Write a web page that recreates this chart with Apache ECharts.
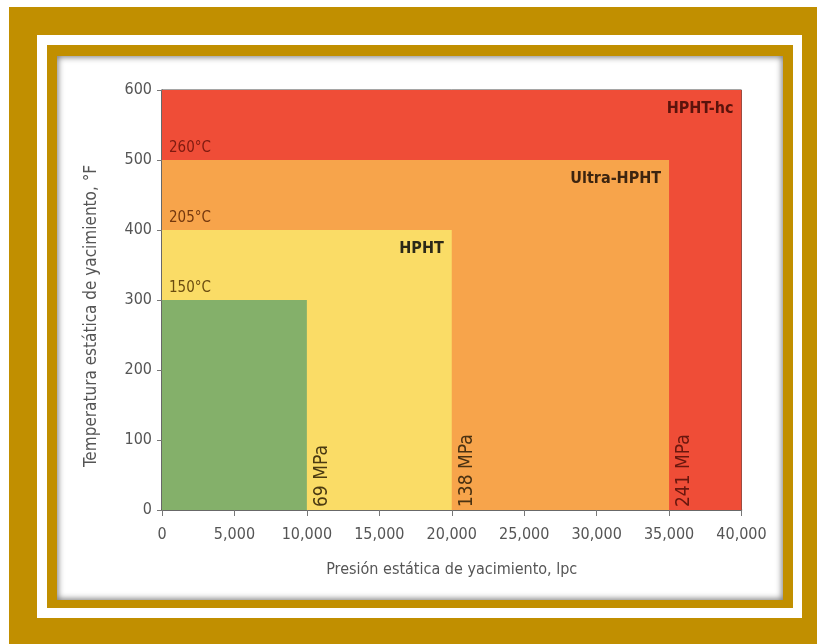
<!DOCTYPE html>
<html lang="es">
<head>
<meta charset="utf-8">
<title>Clasificación HPHT</title>
<script src="https://cdn.jsdelivr.net/npm/echarts@6/dist/echarts.min.js"></script>
<style>
  html, body { margin: 0; padding: 0; background: #ffffff; }
  body { width: 817px; height: 644px; position: relative; overflow: hidden; }
  .layer { position: absolute; }
  #outerGold { left: 9px; top: 7px; right: 0; bottom: 0; background: #C18F00; }
  #whiteBand { left: 37px; top: 35px; width: 765px; height: 583px; background: #ffffff; }
  #innerGold { left: 47px; top: 45px; width: 746px; height: 563px; background: #C18F00; }
  #panel { left: 57px; top: 56px; width: 726px; height: 544px; background: #ffffff;
           box-shadow: inset 0 0 6px 1px rgba(0,0,0,0.55); }
  #chart { left: 0; top: 0; width: 817px; height: 644px; }
</style>
</head>
<body>
<div id="outerGold" class="layer"></div>
<div id="whiteBand" class="layer"></div>
<div id="innerGold" class="layer"></div>
<div id="panel" class="layer"></div>
<div id="chart" class="layer"></div>
<script>
// Zones, outermost first: upper pressure (lpc) and temperature (°F) limits
const zoneNames    = ['HPHT-hc', 'Ultra-HPHT', 'HPHT', ''];
const zonePressure = [40000, 35000, 20000, 10000];
const zoneTemp     = [600, 500, 400, 300];
// Equivalent metric limits written at each zone's top / right edge
const tempCelsius  = ['', '260°C', '205°C', '150°C'];
const pressureMPa  = ['', '241 MPa', '138 MPa', '69 MPa'];
// Axis ticks
const pressureTicks = [0, 5000, 10000, 15000, 20000, 25000, 30000, 35000, 40000];
const tempTicks     = [0, 100, 200, 300, 400, 500, 600];

// Styling
const zoneFill   = ['#EF4D37', '#F7A44B', '#FADC66', '#84B06A'];
const nameInk    = ['#5A130C', '#3C2410', '#2B2818', '#2B2818'];
const celsiusInk = ['#7E1A10', '#7E1A10', '#74380E', '#6A4C10'];
const mpaInk     = ['#6A170E', '#6A170E', '#4A3212', '#4A3A12'];
const FONT = '"Liberation Sans Narrow", "DejaVu Sans Condensed", "Roboto Condensed", "Liberation Sans", sans-serif';

const zoneData = zoneNames.map((n, i) => [zonePressure[i], zoneTemp[i], i]);

const chart = echarts.init(document.getElementById('chart'), null, { renderer: 'canvas' });

chart.setOption({
  backgroundColor: 'transparent',
  animation: false,
  grid: {
    left: 162, right: 75.5, top: 90, bottom: 134,
    show: true, borderColor: '#4a4a4a', borderWidth: 1
  },
  xAxis: {
    type: 'value',
    min: pressureTicks[0], max: pressureTicks[pressureTicks.length - 1],
    interval: pressureTicks[1] - pressureTicks[0],
    name: 'Presión estática de yacimiento, lpc',
    nameLocation: 'middle', nameGap: 52,
    nameTextStyle: { fontFamily: FONT, fontSize: 16, color: '#555' },
    axisLine: { show: true, lineStyle: { color: '#555', width: 1.5 } },
    axisTick: { show: true, length: 6, lineStyle: { color: '#777' } },
    axisLabel: {
      margin: 17, fontFamily: FONT, fontSize: 16, color: '#555',
      formatter: v => v.toLocaleString('en-US')
    },
    splitLine: { show: false }
  },
  yAxis: {
    type: 'value',
    min: tempTicks[0], max: tempTicks[tempTicks.length - 1],
    interval: tempTicks[1] - tempTicks[0],
    name: 'Temperatura estática de yacimiento, °F',
    nameLocation: 'middle', nameGap: 62,
    nameTextStyle: { fontFamily: FONT, fontSize: 17, color: '#555', padding: [0, 32, 0, 0] },
    axisLine: { show: true, lineStyle: { color: '#555', width: 1.5 } },
    axisTick: { show: true, length: 5, lineStyle: { color: '#777' } },
    axisLabel: { margin: 10, fontFamily: FONT, fontSize: 16, color: '#555' },
    splitLine: { show: false }
  },
  series: [
    {
      // nested rectangles, each anchored at the origin
      type: 'custom',
      z: 1,
      data: zoneData,
      renderItem: (params, api) => {
        const o = api.coord([0, 0]);
        const c = api.coord([api.value(0), api.value(1)]);
        const i = api.value(2);
        return {
          type: 'rect',
          shape: { x: o[0], y: c[1], width: c[0] - o[0], height: o[1] - c[1] },
          style: { fill: zoneFill[i] }
        };
      }
    },
    {
      // zone names and metric equivalents
      type: 'custom',
      z: 3,
      data: zoneData,
      renderItem: (params, api) => {
        const o = api.coord([0, 0]);
        const c = api.coord([api.value(0), api.value(1)]);
        const i = api.value(2);
        const kids = [];
        if (zoneNames[i]) {
          kids.push({
            type: 'text',
            style: {
              x: c[0] - 8, y: c[1] + 19, text: zoneNames[i],
              align: 'right', verticalAlign: 'middle',
              font: 'bold 16px ' + FONT, fill: nameInk[i]
            }
          });
        }
        if (tempCelsius[i]) {
          kids.push({
            type: 'text',
            style: {
              x: o[0] + 7, y: c[1] - 12, text: tempCelsius[i],
              align: 'left', verticalAlign: 'middle',
              font: '15px ' + FONT, fill: celsiusInk[i]
            }
          });
        }
        if (pressureMPa[i]) {
          kids.push({
            type: 'text',
            x: c[0] + 15, y: o[1] - 3,
            rotation: Math.PI / 2,
            style: {
              x: 0, y: 0, text: pressureMPa[i],
              align: 'left', verticalAlign: 'middle',
              font: '19px ' + FONT, fill: mpaInk[i]
            }
          });
        }
        return { type: 'group', children: kids };
      }
    }
  ]
});
</script>
</body>
</html>
